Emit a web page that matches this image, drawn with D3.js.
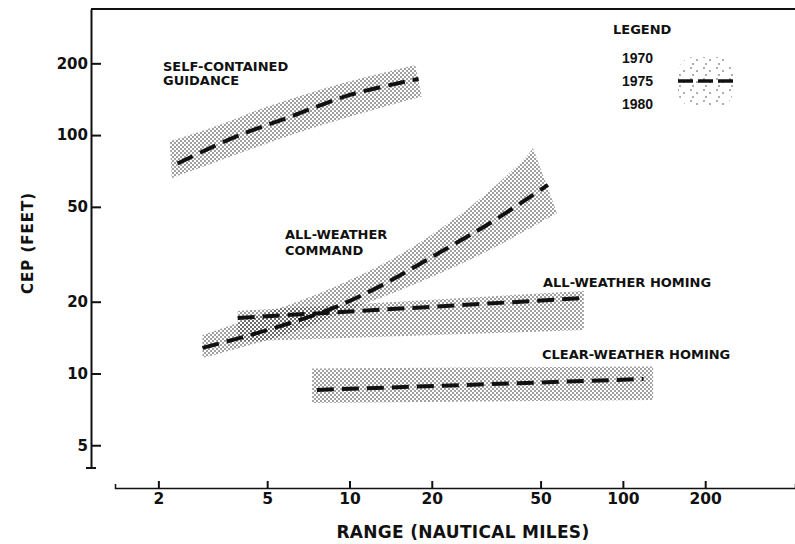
<!DOCTYPE html>
<html>
<head>
<meta charset="utf-8">
<script src="https://cdn.jsdelivr.net/npm/d3@7"></script>
<style>
  html, body { margin: 0; padding: 0; background: #fff; }
  svg { display: block; }
  text { fill: #111; font-family: "DejaVu Sans", sans-serif; font-weight: bold; }
</style>
</head>
<body>
<svg id="chart" width="795" height="544"></svg>
<script>
// CEP (feet) versus range (nautical miles) for four guidance types.
// Each band: upper edge = 1970, dashed centre = 1975, lower edge = 1980.

// Self-contained guidance
const scRange1970 = [2.2, 3.4, 4.5, 6.5, 9.4, 13.9, 17.4];
const scCep1970   = [94, 111, 126, 145, 165, 185, 197];
const scRange1975 = [2.35, 3.84, 6.15, 9.95, 16.2, 17.9];
const scCep1975   = [76, 98.5, 120, 147, 168, 172];
const scRange1980 = [2.24, 3.4, 5.2, 7.9, 12.1, 18.4];
const scCep1980   = [66, 78.6, 93.8, 110, 127, 145];

// All-weather command
const cmdRange1970 = [2.9, 5.0, 8.0, 14.1, 24.7, 43.2, 46.9];
const cmdCep1970   = [14.5, 18.0, 22.0, 29.9, 45.3, 78.6, 88.3];
const cmdRange1975 = [2.9, 5.0, 8.7, 12.9, 20.2, 32.7, 53.2];
const cmdCep1975   = [12.8, 15.2, 18.8, 23.2, 31.0, 42.8, 61.8];
const cmdRange1980 = [2.9, 6.06, 10.65, 18.6, 32.7, 57.4];
const cmdCep1980   = [11.6, 14.8, 19.0, 24.5, 33.0, 47.1];

// All-weather homing
const awhRange1970 = [3.9, 72];
const awhCep1970   = [18.3, 22.2];
const awhRange1975 = [3.9, 71];
const awhCep1975   = [17.1, 20.7];
const awhRange1980 = [3.9, 72];
const awhCep1980   = [13.6, 15.2];

// Clear-weather homing
const cwhRange1970 = [7.3, 129];
const cwhCep1970   = [10.5, 10.7];
const cwhRange1975 = [7.6, 119];
const cwhCep1975   = [8.53, 9.48];
const cwhRange1980 = [7.3, 129];
const cwhCep1980   = [7.52, 7.74];

// Axes
const xTicks = [2, 5, 10, 20, 50, 100, 200];
const yTicks = [5, 10, 20, 50, 100, 200];
const legendYears = ["1970", "1975", "1980"];
const xTitle = "RANGE (NAUTICAL MILES)";
const yTitle = "CEP (FEET)";

const zip = (xs, ys) => xs.map((v, i) => [v, ys[i]]);

const bands = [
  { upper: zip(scRange1970, scCep1970),   mid: zip(scRange1975, scCep1975),   lower: zip(scRange1980, scCep1980) },
  { upper: zip(cmdRange1970, cmdCep1970), mid: zip(cmdRange1975, cmdCep1975), lower: zip(cmdRange1980, cmdCep1980) },
  { upper: zip(awhRange1970, awhCep1970), mid: zip(awhRange1975, awhCep1975), lower: zip(awhRange1980, awhCep1980) },
  { upper: zip(cwhRange1970, cwhCep1970), mid: zip(cwhRange1975, cwhCep1975), lower: zip(cwhRange1980, cwhCep1980) }
];

const svg = d3.select("#chart");

const x = d3.scaleLog().domain([1.388, 426.1]).range([115, 795]);
const y = d3.scaleLog().domain([4.013, 338]).range([468, 9]);
const xAxisY = 488;

// Stipple fills
const defs = svg.append("defs");
const dots = defs.append("pattern")
  .attr("id", "stipple").attr("patternUnits", "userSpaceOnUse")
  .attr("width", 4).attr("height", 4);
dots.append("circle").attr("cx", 1).attr("cy", 1).attr("r", 0.8).attr("fill", "#262626");
dots.append("circle").attr("cx", 3).attr("cy", 3).attr("r", 0.8).attr("fill", "#262626");

const sparse = defs.append("pattern")
  .attr("id", "sparse").attr("patternUnits", "userSpaceOnUse")
  .attr("width", 13).attr("height", 11);
[[2, 2], [8, 5], [4, 9]].forEach(([cx, cy]) =>
  sparse.append("circle").attr("cx", cx).attr("cy", cy).attr("r", 0.75).attr("fill", "#333"));

const line = d3.line().x(d => x(d[0])).y(d => y(d[1])).curve(d3.curveCatmullRom);

const bandPath = b => {
  const up = line(b.upper);
  const lo = line(b.lower.slice().reverse());
  return up + lo.replace(/^M/, "L") + "Z";
};

const g = svg.append("g");
g.selectAll("path.band").data(bands).join("path")
  .attr("class", "band")
  .attr("d", bandPath)
  .attr("fill", "url(#stipple)");

g.selectAll("path.mid").data(bands).join("path")
  .attr("class", "mid")
  .attr("d", b => line(b.mid))
  .attr("fill", "none")
  .attr("stroke", "#111")
  .attr("stroke-width", 4)
  .attr("stroke-dasharray", "17,8");

// Frame top and axes
svg.append("line")
  .attr("x1", x.range()[0] - 24).attr("x2", x.range()[1])
  .attr("y1", y.range()[1]).attr("y2", y.range()[1])
  .attr("stroke", "#111").attr("stroke-width", 2);

const yAxis = svg.append("g")
  .attr("transform", "translate(91,0)")
  .call(d3.axisLeft(y).tickValues(yTicks).tickFormat(d3.format("d"))
    .tickSize(-10).tickSizeOuter(0).tickPadding(3));
yAxis.select(".domain").attr("stroke", "#111").attr("stroke-width", 2);
yAxis.selectAll(".tick line").attr("stroke", "#111").attr("stroke-width", 2);
yAxis.selectAll(".tick text")
  .style("font-family", "DejaVu Sans").style("font-weight", "bold")
  .style("font-size", "15px").attr("fill", "#111");
yAxis.append("line")
  .attr("x1", -5).attr("x2", 5)
  .attr("y1", y.range()[0]).attr("y2", y.range()[0])
  .attr("stroke", "#111").attr("stroke-width", 2);

const xAxis = svg.append("g")
  .attr("transform", `translate(0,${xAxisY})`)
  .call(d3.axisBottom(x).tickValues(xTicks).tickFormat(d3.format("d"))
    .tickSize(-7).tickSizeOuter(-4).tickPadding(5));
xAxis.select(".domain").attr("stroke", "#111").attr("stroke-width", 1.5);
xAxis.selectAll(".tick line").attr("stroke", "#111").attr("stroke-width", 2);
xAxis.selectAll(".tick text")
  .style("font-family", "DejaVu Sans").style("font-weight", "bold")
  .style("font-size", "15.5px").attr("fill", "#111");

// Axis titles
svg.append("text")
  .attr("x", 463).attr("y", 538)
  .attr("text-anchor", "middle")
  .style("font-size", "17px").style("letter-spacing", "0.3px")
  .text(xTitle);

svg.append("text")
  .attr("transform", "translate(33,243) rotate(-90)")
  .attr("text-anchor", "middle")
  .style("font-size", "15px").style("letter-spacing", "1px")
  .text(yTitle);

// Band labels
const label = (lines, x0, y0, dy) => {
  const t = svg.append("text").attr("x", x0).attr("y", y0).style("font-size", "13px");
  lines.forEach((s, i) => t.append("tspan").attr("x", x0).attr("dy", i ? dy : 0).text(s));
};
label(["SELF-CONTAINED", "GUIDANCE"], 163, 71, 14);
label(["ALL-WEATHER", "COMMAND"], 285, 238.5, 16.5);
label(["ALL-WEATHER HOMING"], 543, 286.5, 0);
label(["CLEAR-WEATHER HOMING"], 542, 358.5, 0);

// Legend
svg.append("text").attr("x", 613).attr("y", 34)
  .style("font-size", "13px").text("LEGEND");
svg.selectAll("text.year").data(legendYears).join("text")
  .attr("class", "year")
  .attr("x", 622).attr("y", (d, i) => 63 + i * 23)
  .style("font-family", "Liberation Sans").style("font-size", "14px")
  .text(d => d);
svg.append("rect")
  .attr("x", 678).attr("y", 57).attr("width", 55).attr("height", 50)
  .attr("rx", 16)
  .attr("fill", "url(#sparse)");
svg.append("line")
  .attr("x1", 678).attr("x2", 733).attr("y1", 81).attr("y2", 81)
  .attr("stroke", "#111").attr("stroke-width", 3.5)
  .attr("stroke-dasharray", "15,5");
</script>
</body>
</html>
